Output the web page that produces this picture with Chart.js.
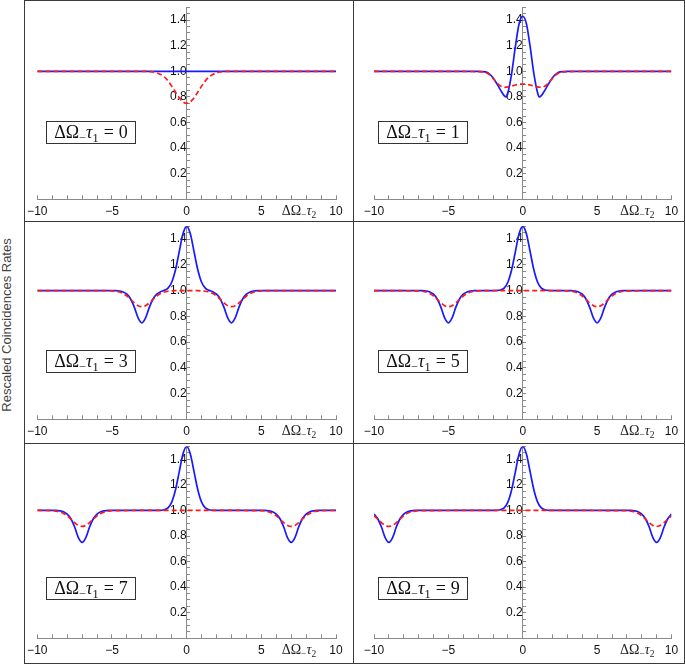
<!DOCTYPE html>
<html>
<head>
<meta charset="utf-8">
<script src="https://cdn.jsdelivr.net/npm/chart.js@4.4.1/dist/chart.umd.min.js"></script>
<style>
  body { margin: 0; background: #fff; width: 685px; height: 664px; overflow: hidden; position: relative; }
  .frame { position: absolute; left: 24px; top: 0; width: 659px; height: 662px; border: 1px solid #3a3a3a; }
  .vline { position: absolute; left: 353px; top: 0; width: 1px; height: 664px; background: #3a3a3a; }
  .hline { position: absolute; left: 24px; width: 661px; height: 1px; background: #3a3a3a; }
  .panel { position: absolute; }
  .panel canvas { position: absolute; left: 0; top: 0; }
  .tau { position: absolute; width: 90px; height: 23px; box-sizing: border-box; border: 1px solid #333; background: #fff;
         font: 18px "Liberation Serif", "DejaVu Serif", serif; color: #111; text-align: center; line-height: 20px; white-space: nowrap; }
  .tau sub, .xname sub { font-size: 0.68em; line-height: 0; vertical-align: -0.3em; }
  .tau .eq { margin: 0 5px; }
  .xname { position: absolute; font: 14px "Liberation Serif", "DejaVu Serif", serif; color: #222; line-height: 16px; white-space: nowrap; }
  .ytitle { position: absolute; left: 6px; top: 325px; transform: translate(-50%, -50%) rotate(-90deg);
            font: 13px "Liberation Sans", Arial, sans-serif; color: #444; white-space: nowrap; }
</style>
</head>
<body>
<div class="frame"></div>
<div class="vline"></div>
<div class="hline" style="top:221px"></div>
<div class="hline" style="top:443px"></div>
<div class="ytitle">Rescaled Coincidences Rates</div>
<div id="panels"></div>

<script>
// ΔΩ−τ1 = 0
const xA = [-10, -3, -2.5, -2, -1.5, -1.25, -1, -0.75, -0.5, -0.25, 0, 0.25, 0.5, 0.75, 1, 1.25, 1.5, 2, 2.5, 3, 10];
const blueA = [1, 1, 1, 1, 1, 1, 1, 1, 1, 1, 1, 1, 1, 1, 1, 1, 1, 1, 1, 1, 1];
const redA = [1, 1, 0.998, 0.988, 0.956, 0.925, 0.884, 0.838, 0.794, 0.762, 0.75, 0.762, 0.794, 0.838, 0.884, 0.925, 0.956, 0.988, 0.998, 1, 1];

// ΔΩ−τ1 = 1
const xB = [-10, -3, -2.5, -2.25, -2, -1.75, -1.5, -1.25, -1.1, -1, -0.75, -0.5, -0.25, 0, 0.25, 0.5, 0.75, 1, 1.1, 1.25, 1.5, 1.75, 2, 2.25, 2.5, 3, 10];
const blueB = [1, 1, 0.995, 0.98, 0.95, 0.905, 0.855, 0.81, 0.8, 0.83, 0.98, 1.19, 1.37, 1.43, 1.37, 1.19, 0.98, 0.83, 0.8, 0.81, 0.855, 0.905, 0.95, 0.98, 0.995, 1, 1];
const redB = [1, 0.998, 0.99, 0.975, 0.945, 0.912, 0.885, 0.875, 0.876, 0.878, 0.885, 0.893, 0.899, 0.9, 0.899, 0.893, 0.885, 0.878, 0.876, 0.875, 0.885, 0.912, 0.945, 0.975, 0.99, 0.998, 1];

// ΔΩ−τ1 = 3
const xC = [-10, -5.5, -5, -4.75, -4.5, -4.25, -4, -3.75, -3.5, -3.25, -3, -2.75, -2.5, -2.25, -2, -1.75, -1.5, -1.25, -1, -0.75, -0.5, -0.25,
  0, 0.25, 0.5, 0.75, 1, 1.25, 1.5, 1.75, 2, 2.25, 2.5, 2.75, 3, 3.25, 3.5, 3.75, 4, 4.25, 4.5, 4.75, 5, 5.5, 10];
const blueC = [1, 1, 1, 1, 0.997, 0.99, 0.972, 0.935, 0.87, 0.788, 0.75, 0.788, 0.87, 0.935, 0.972, 0.991, 1.002, 1.02, 1.065, 1.16, 1.3, 1.44,
  1.5, 1.44, 1.3, 1.16, 1.065, 1.02, 1.002, 0.991, 0.972, 0.935, 0.87, 0.788, 0.75, 0.788, 0.87, 0.935, 0.972, 0.99, 0.997, 1, 1, 1, 1];
const redC = [1, 1, 0.998, 0.995, 0.989, 0.977, 0.958, 0.932, 0.905, 0.883, 0.875, 0.883, 0.905, 0.932, 0.958, 0.977, 0.989, 0.995, 0.998, 1, 1, 1,
  1, 1, 1, 1, 0.998, 0.995, 0.989, 0.977, 0.958, 0.932, 0.905, 0.883, 0.875, 0.883, 0.905, 0.932, 0.958, 0.977, 0.989, 0.995, 0.998, 1, 1];

// ΔΩ−τ1 = 5
const xD = [-10, -7, -6.75, -6.5, -6.25, -6, -5.75, -5.5, -5.25, -5, -4.75, -4.5, -4.25, -4, -3.75, -3.5, -3.25, -3, -2, -1.75, -1.5, -1.25, -1, -0.75, -0.5, -0.25,
  0, 0.25, 0.5, 0.75, 1, 1.25, 1.5, 1.75, 2, 3, 3.25, 3.5, 3.75, 4, 4.25, 4.5, 4.75, 5, 5.25, 5.5, 5.75, 6, 6.25, 6.5, 6.75, 7, 10];
const blueD = [1, 1, 1, 0.997, 0.99, 0.972, 0.935, 0.87, 0.788, 0.75, 0.788, 0.87, 0.935, 0.972, 0.99, 0.997, 1, 1, 1, 1.001, 1.005, 1.02, 1.065, 1.16, 1.3, 1.44,
  1.5, 1.44, 1.3, 1.16, 1.065, 1.02, 1.005, 1.001, 1, 1, 1, 0.997, 0.99, 0.972, 0.935, 0.87, 0.788, 0.75, 0.788, 0.87, 0.935, 0.972, 0.99, 0.997, 1, 1, 1];
const redD = [1, 0.998, 0.995, 0.989, 0.977, 0.958, 0.932, 0.905, 0.883, 0.875, 0.883, 0.905, 0.932, 0.958, 0.977, 0.989, 0.995, 0.998, 1, 1, 1, 1, 1, 1, 1, 1,
  1, 1, 1, 1, 1, 1, 1, 1, 1, 0.998, 0.995, 0.989, 0.977, 0.958, 0.932, 0.905, 0.883, 0.875, 0.883, 0.905, 0.932, 0.958, 0.977, 0.989, 0.995, 0.998, 1];

// ΔΩ−τ1 = 7
const xE = [-10, -9, -8.75, -8.5, -8.25, -8, -7.75, -7.5, -7.25, -7, -6.75, -6.5, -6.25, -6, -5.75, -5.5, -5.25, -5, -2, -1.75, -1.5, -1.25, -1, -0.75, -0.5, -0.25,
  0, 0.25, 0.5, 0.75, 1, 1.25, 1.5, 1.75, 2, 5, 5.25, 5.5, 5.75, 6, 6.25, 6.5, 6.75, 7, 7.25, 7.5, 7.75, 8, 8.25, 8.5, 8.75, 9, 10];
const blueE = [1, 1, 1, 0.997, 0.99, 0.972, 0.935, 0.87, 0.788, 0.75, 0.788, 0.87, 0.935, 0.972, 0.99, 0.997, 1, 1, 1, 1.001, 1.005, 1.02, 1.065, 1.16, 1.3, 1.44,
  1.5, 1.44, 1.3, 1.16, 1.065, 1.02, 1.005, 1.001, 1, 1, 1, 0.997, 0.99, 0.972, 0.935, 0.87, 0.788, 0.75, 0.788, 0.87, 0.935, 0.972, 0.99, 0.997, 1, 1, 1];
const redE = [1, 0.998, 0.995, 0.989, 0.977, 0.958, 0.932, 0.905, 0.883, 0.875, 0.883, 0.905, 0.932, 0.958, 0.977, 0.989, 0.995, 0.998, 1, 1, 1, 1, 1, 1, 1, 1,
  1, 1, 1, 1, 1, 1, 1, 1, 1, 0.998, 0.995, 0.989, 0.977, 0.958, 0.932, 0.905, 0.883, 0.875, 0.883, 0.905, 0.932, 0.958, 0.977, 0.989, 0.995, 0.998, 1];

// ΔΩ−τ1 = 9
const xF = [-10, -9.75, -9.5, -9.25, -9, -8.75, -8.5, -8.25, -8, -7.75, -7.5, -7.25, -7, -2, -1.75, -1.5, -1.25, -1, -0.75, -0.5, -0.25,
  0, 0.25, 0.5, 0.75, 1, 1.25, 1.5, 1.75, 2, 7, 7.25, 7.5, 7.75, 8, 8.25, 8.5, 8.75, 9, 9.25, 9.5, 9.75, 10];
const blueF = [0.972, 0.935, 0.87, 0.788, 0.75, 0.788, 0.87, 0.935, 0.972, 0.99, 0.997, 1, 1, 1, 1.001, 1.005, 1.02, 1.065, 1.16, 1.3, 1.44,
  1.5, 1.44, 1.3, 1.16, 1.065, 1.02, 1.005, 1.001, 1, 1, 1, 0.997, 0.99, 0.972, 0.935, 0.87, 0.788, 0.75, 0.788, 0.87, 0.935, 0.972];
const redF = [0.958, 0.932, 0.905, 0.883, 0.875, 0.883, 0.905, 0.932, 0.958, 0.977, 0.989, 0.995, 0.998, 1, 1, 1, 1, 1, 1, 1, 1,
  1, 1, 1, 1, 1, 1, 1, 1, 1, 0.998, 0.995, 0.989, 0.977, 0.958, 0.932, 0.905, 0.883, 0.875, 0.883, 0.905, 0.932, 0.958];

const tauValues = [0, 1, 3, 5, 7, 9];
const xTickLabels = [-10, -5, 0, 5, 10];
const yTickLabels = [0.2, 0.4, 0.6, 0.8, 1.0, 1.2, 1.4];

const panels = [
  { xs: xA, blue: blueA, red: redA, col: 0, row: 0 },
  { xs: xB, blue: blueB, red: redB, col: 1, row: 0 },
  { xs: xC, blue: blueC, red: redC, col: 0, row: 1 },
  { xs: xD, blue: blueD, red: redD, col: 1, row: 1 },
  { xs: xE, blue: blueE, red: redE, col: 0, row: 2 },
  { xs: xF, blue: blueF, red: redF, col: 1, row: 2 }
];

// panel geometry (px)
const colLeft = [25, 354], colWidth = [328, 330];
const rowTop = [1, 222, 444], rowHeight = [220, 221, 219];
const padLeft = [12.3, 20], padRight = [17, 12.5];
const padTop = [6.3, 4.3, 2.5], axisBand = [21.7, 23.7, 24.7];
const boxLeft = [21, 24], boxTop = [119.7, 127.5, 133];
const nameLeft = [256.7, 266];

const tickFont = { family: '"Liberation Sans", Arial, sans-serif', size: 12 };
const axisGray = '#8a8a8a';

const toPoints = function (xs, ys) {
  return xs.map(function (x, i) { return { x: x, y: ys[i] }; });
};

const findTick = function (list, value) {
  return list.find(function (t) { return Math.abs(t - value) < 1e-6; });
};

const makePanel = function (p, index) {
  const holder = document.createElement('div');
  holder.className = 'panel';
  holder.style.left = colLeft[p.col] + 'px';
  holder.style.top = rowTop[p.row] + 'px';
  holder.style.width = colWidth[p.col] + 'px';
  holder.style.height = rowHeight[p.row] + 'px';

  const canvas = document.createElement('canvas');
  canvas.width = colWidth[p.col];
  canvas.height = rowHeight[p.row];
  holder.appendChild(canvas);

  const box = document.createElement('div');
  box.className = 'tau';
  box.style.left = boxLeft[p.col] + 'px';
  box.style.top = boxTop[p.row] + 'px';
  box.innerHTML = '<span>ΔΩ<sub>−</sub><i>τ</i><sub>1</sub><span class="eq">=</span>' + tauValues[index] + '</span>';
  holder.appendChild(box);

  const name = document.createElement('div');
  name.className = 'xname';
  name.style.left = nameLeft[p.col] + 'px';
  name.style.top = (rowHeight[p.row] - axisBand[p.row] + 12 - 8) + 'px';
  name.innerHTML = 'ΔΩ<sub>−</sub><i>τ</i><sub>2</sub>';
  holder.appendChild(name);

  document.getElementById('panels').appendChild(holder);

  new Chart(canvas, {
    type: 'line',
    data: {
      datasets: [{
        data: toPoints(p.xs, p.red),
        borderColor: '#ff1a1a',
        borderWidth: 1.7,
        borderDash: [5, 3],
        pointRadius: 0,
        cubicInterpolationMode: 'monotone',
        fill: false
      }, {
        data: toPoints(p.xs, p.blue),
        borderColor: '#1a1aff',
        borderWidth: 1.7,
        pointRadius: 0,
        cubicInterpolationMode: 'monotone',
        fill: false
      }]
    },
    options: {
      responsive: false,
      animation: false,
      events: [],
      layout: { padding: { left: padLeft[p.col], right: padRight[p.col], top: padTop[p.row], bottom: 0 } },
      plugins: { legend: { display: false }, tooltip: { enabled: false } },
      scales: {
        x: {
          type: 'linear',
          min: -10,
          max: 10,
          position: 'bottom',
          border: { color: axisGray, width: 1 },
          grid: { drawOnChartArea: false, tickLength: -4, tickColor: axisGray },
          ticks: {
            stepSize: 1,
            autoSkip: false,
            maxRotation: 0,
            padding: 9,
            color: '#111',
            font: tickFont,
            callback: function (value) {
              const t = findTick(xTickLabels, value);
              if (t === undefined) return '';
              return t < 0 ? '\u2212' + Math.abs(t) : String(t);
            }
          },
          afterFit: function (scale) {
            scale.height = axisBand[p.row];
            scale.paddingLeft = 0;
            scale.paddingRight = 0;
          }
        },
        y: {
          type: 'linear',
          min: 0,
          max: 1.5,
          position: { x: 0 },
          border: { color: axisGray, width: 1 },
          grid: { drawOnChartArea: false, tickLength: -4, tickColor: axisGray },
          ticks: {
            stepSize: 0.05,
            maxTicksLimit: 100,
            autoSkip: false,
            padding: 9,
            color: '#111',
            font: tickFont,
            callback: function (value) {
              const t = findTick(yTickLabels, value);
              return t === undefined ? '' : t.toFixed(1);
            }
          },
          afterFit: function (scale) {
            scale.paddingTop = 0;
            scale.paddingBottom = 0;
          }
        }
      }
    }
  });
};

panels.forEach(makePanel);
</script>
</body>
</html>
